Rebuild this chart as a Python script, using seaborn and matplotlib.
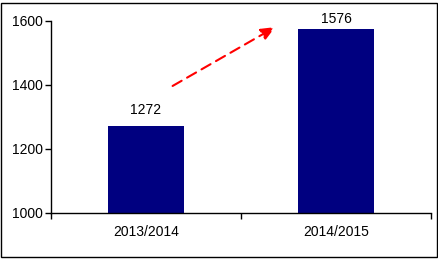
import matplotlib
matplotlib.use("Agg")
import matplotlib.pyplot as plt
import seaborn as sns
import pandas as pd
from matplotlib.patches import Rectangle

categories = ["2013/2014", "2014/2015"]
values = [1272, 1576]
y_ticks = [1000, 1200, 1400, 1600]
arrow_start = (0.14, 1397)
arrow_end = (0.68, 1581)

sns.set_theme(style="white")
plt.rcParams['font.family'] = ['Liberation Sans', 'DejaVu Sans']

df = pd.DataFrame({"season": categories, "value": values})

fig = plt.figure(figsize=(4.39, 2.61), dpi=100)
ax = fig.add_axes([51/439, 48/261, 380/439, 192/261])
sns.barplot(data=df, x="season", y="value", color="#000080", saturation=1,
            width=0.4, ax=ax, edgecolor="none")

ax.set_xlim(-0.5, 1.5)
ax.set_ylim(1000, 1600)
ax.set_yticks(y_ticks)
ax.set_xlabel("")
ax.set_ylabel("")
for s in ["top", "right"]:
    ax.spines[s].set_visible(False)
for s in ["left", "bottom"]:
    ax.spines[s].set_color("black")
    ax.spines[s].set_linewidth(1.0)

ax.tick_params(axis="y", which="major", direction="out", length=4, width=1,
               color="black", labelsize=10, labelcolor="black", pad=2, left=True)
ax.tick_params(axis="x", which="major", length=0, labelsize=10, labelcolor="black", pad=9)
ax.set_xticks([-0.5, 0.5, 1.5], minor=True)
ax.tick_params(axis="x", which="minor", direction="out", length=4, width=1,
               color="black", bottom=True)

for i, v in enumerate(values):
    ax.text(i, min(v + 28, 1583), str(v), ha="center", va="bottom",
            fontsize=10, color="black")

ax.annotate("", xy=arrow_end, xytext=arrow_start,
            arrowprops=dict(arrowstyle="-|>,head_length=0.7,head_width=0.3",
                            color="#FF0000", lw=1.5, linestyle=(0, (5, 3)),
                            shrinkA=0, shrinkB=0))

fig.patches.append(Rectangle((1/439, 4/261), 436/439, 254/261, transform=fig.transFigure,
                             fill=False, edgecolor="black", linewidth=1.0))

fig.savefig("out.png", dpi=100)
